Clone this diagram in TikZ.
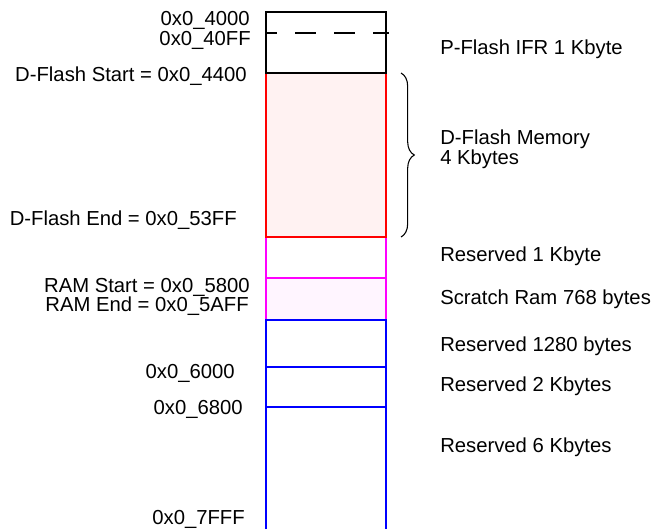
\documentclass[tikz,border=0pt]{standalone}
\usepackage{fontspec}
\setmainfont{Liberation Sans}
\usepackage{tikz}
\usetikzlibrary{decorations.pathreplacing}
\definecolor{memmag}{RGB}{255,0,255}
\definecolor{memred}{RGB}{255,0,0}
\definecolor{memblue}{RGB}{0,0,255}

\begin{document}
\begin{tikzpicture}[x=0.75pt,y=-0.75pt,font=\fontsize{15.2}{17.5}\selectfont,
  addr/.style={anchor=east,inner sep=0pt},
  desc/.style={anchor=west,inner sep=0pt,align=left},
  wall/.style={line width=1.5pt}]
\useasboundingbox (0,0) rectangle (653,529);
% memory blocks
\draw[wall,memmag] (266,237) -- (266,278) (386,237) -- (386,278);
\filldraw[wall,draw=memmag,fill=memmag!4] (266,278) rectangle (386,320);
\filldraw[wall,draw=memred,fill=memred!5] (266,73) rectangle (386,237);
\draw[wall,black] (266,12) rectangle (386,73);
\draw[wall,black,dash pattern=on 15.75pt off 13.5pt,dash phase=7.5pt] (266,33) -- (389,33);
\draw[wall,memblue] (266,529) -- (266,320) -- (386,320) -- (386,529);
\draw[wall,memblue] (266,367) -- (386,367) (266,407) -- (386,407);
% addresses
\node[addr] (a4000) at (250,20) {0x0\_4000};
\node[addr] (a40ff) at (251,40) {0x0\_40FF};
\node[addr] (dstart) at (247,76) {D-Flash Start = 0x0\_4400};
\node[addr] (dend) at (237,220) {D-Flash End = 0x0\_53FF};
\node[addr] (rstart) at (250,287) {RAM Start = 0x0\_5800};
\node[addr] (rend) at (249,306) {RAM End = 0x0\_5AFF};
\node[addr] (a6000) at (235,373) {0x0\_6000};
\node[addr] (a6800) at (243,409) {0x0\_6800};
\node[addr] (a7fff) at (245,519) {0x0\_7FFF};
% descriptions
\node[desc] (ifr) at (440,49) {P-Flash IFR 1 Kbyte};
\node[desc,font=\fontsize{15.2}{12.75}\selectfont] (dflash) at (440,149) {D-Flash Memory\\4 Kbytes};
\node[desc] (res1k) at (440,256) {Reserved 1 Kbyte};
\node[desc] (scratch) at (440,299) {Scratch Ram 768 bytes};
\node[desc] (res1280) at (440,346) {Reserved 1280 bytes};
\node[desc] (res2k) at (440,386) {Reserved 2 Kbytes};
\node[desc] (res6k) at (440,447) {Reserved 6 Kbytes};
\coordinate (btop) at (401,73);
\coordinate (bbot) at (401,237);
\draw[thick,decorate,decoration={brace,amplitude=10pt}] (btop) -- (bbot);
\end{tikzpicture}
\end{document}
